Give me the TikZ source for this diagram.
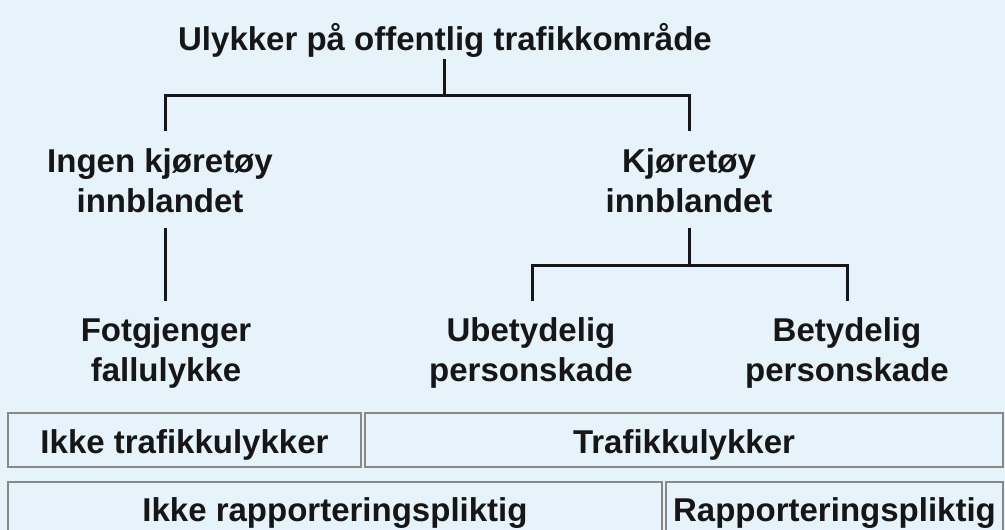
\documentclass[tikz,border=0pt]{standalone}
\usepackage{fontspec}
\setmainfont{Liberation Sans}
\definecolor{bgblue}{HTML}{E6F3FA}
\definecolor{ink}{HTML}{161616}
\definecolor{boxline}{HTML}{888888}
\begin{document}
\begin{tikzpicture}[x=1pt,y=-1pt,
  lbl/.style={font=\fontsize{33}{40}\selectfont\bfseries, text=ink, align=center, inner sep=0pt, anchor=base},
  conn/.style={draw=ink, line width=3pt},
  catbox/.style={draw=boxline, line width=1.6pt, fill=bgblue}]
\fill[bgblue] (0,0) rectangle (1005,530);
\useasboundingbox (0,0) rectangle (1005,530);

% tree labels (base anchor = baseline of last line)
\node[lbl] (top) at (445,50) {Ulykker på offentlig trafikkområde};
\node[lbl] (ingen) at (160,212) {Ingen kjøretøy\\innblandet};
\node[lbl] (kjor) at (689,212) {Kjøretøy\\innblandet};
\node[lbl] (fot) at (166,381) {Fotgjenger\\fallulykke};
\node[lbl] (ubet) at (531,381) {Ubetydelig\\personskade};
\node[lbl] (bet) at (847,381) {Betydelig\\personskade};

% connector coordinates
\coordinate (t0) at (444,59);
\coordinate (j0) at (444,95);
\coordinate (lc) at (165,95);
\coordinate (rc) at (689,95);
\coordinate (lt) at (165,131);
\coordinate (rt) at (689,131);
\coordinate (lb0) at (165,228);
\coordinate (lb1) at (165,301);
\coordinate (k0) at (689,228);
\coordinate (k1) at (689,265);
\coordinate (kl) at (532,265);
\coordinate (kr) at (847,265);
\coordinate (klb) at (532,301);
\coordinate (krb) at (847,301);

\draw[conn] (t0) -- (j0);
\draw[conn] (lt) -- (lc) -- (rc) -- (rt);
\draw[conn] (lb0) -- (lb1);
\draw[conn] (k0) -- (k1);
\draw[conn] (klb) -- (kl) -- (kr) -- (krb);

% category boxes
\draw[catbox] (8,413) rectangle (361,467);
\draw[catbox] (365,413) rectangle (1003,467);
\draw[catbox] (8,482) rectangle (662,540);
\draw[catbox] (666,482) rectangle (1003,540);
\node[lbl] (ikketr) at (184.5,453) {Ikke trafikkulykker};
\node[lbl] (trafikk) at (684,453) {Trafikkulykker};
\node[lbl] (ikkerap) at (335,521) {Ikke rapporteringspliktig};
\node[lbl] (rap) at (834.5,521) {Rapporteringspliktig};
\end{tikzpicture}
\end{document}
